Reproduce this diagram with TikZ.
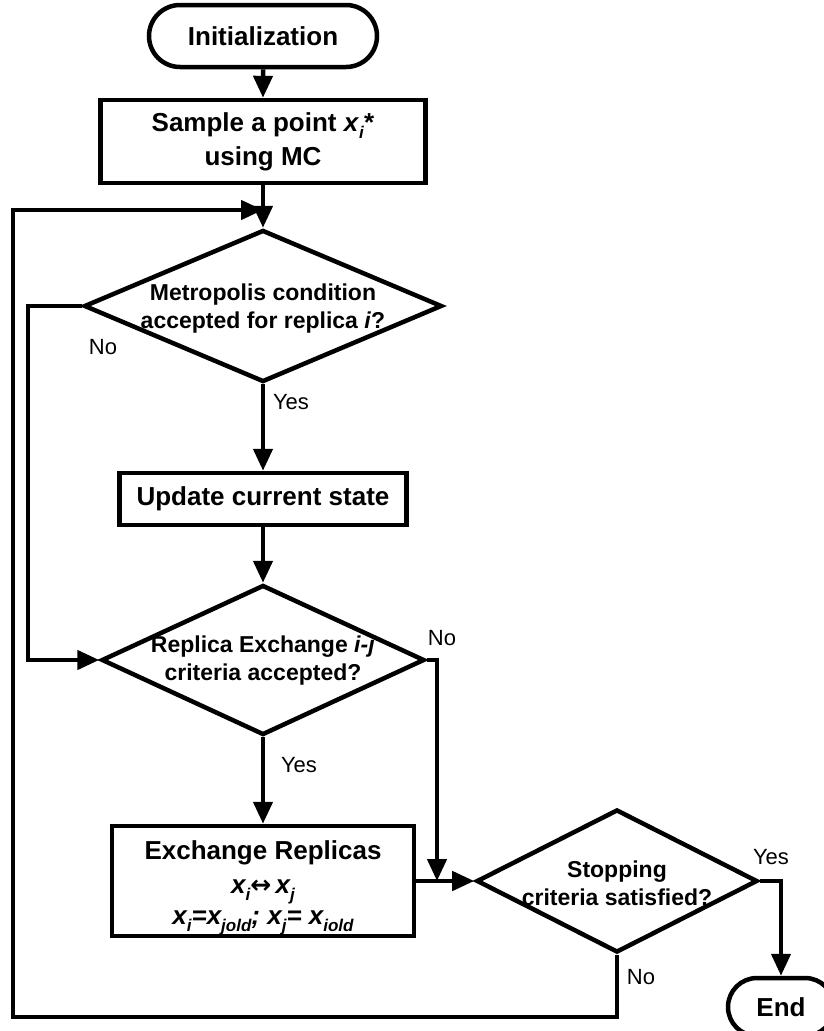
\documentclass[tikz,border=0pt]{standalone}
\usepackage{fontspec}
\setmainfont{Liberation Sans}
\newfontfamily\arrfont{DejaVu Sans}
\usetikzlibrary{arrows.meta,shapes.geometric,shapes.misc}
\newcommand{\lsub}[1]{\raisebox{-0.28em}{\fontsize{17}{17}\selectfont #1}}
\begin{document}
\begin{tikzpicture}[x=1pt,y=-1pt,
  every node/.style={inner sep=0pt},
  box/.style={draw,line width=4.5pt,rectangle,align=center,font=\fontsize{26}{34}\selectfont\bfseries},
  term/.style={draw,line width=4.5pt,rounded rectangle,font=\fontsize{26}{30}\selectfont\bfseries},
  dia/.style={draw,line width=4.5pt,diamond},
  dtext/.style={align=center,font=\fontsize{23}{28}\selectfont\bfseries},
  lbl/.style={font=\fontsize{22}{24}\selectfont},
  arr/.style={line width=4.5pt,-{Triangle[length=22pt,width=19pt]}}]
\useasboundingbox (0,0) rectangle (824,1031);
\node[term,minimum width=228,minimum height=62] (init) at (263,36) {Initialization};
\node[box,minimum width=325,minimum height=83] (sample) at (263,141.5) {Sample a point \textit{x}\lsub{\textit{i}}*\\using MC};
\node[dia,minimum width=358,minimum height=152] (d1) at (263,306) {};
\node[dtext] (d1t) at (263,309) {Metropolis condition\\accepted for replica \textit{i}?};
\node[box,minimum width=287,minimum height=52] (upd) at (263,499) {Update current state};
\node[dia,minimum width=323,minimum height=150] (d2) at (263,660) {};
\node[dtext] (d2t) at (263,661) {Replica Exchange \textit{i-j}\\criteria accepted?};
\node[box,minimum width=302,minimum height=110] (exch) at (263,881) {};
\node[align=center,font=\fontsize{26}{32}\selectfont\bfseries] (excht) at (263,888) {Exchange Replicas\\[2pt]
{\fontsize{26}{30}\selectfont\itshape x\lsub{i}{\arrfont\fontsize{25}{25}\selectfont ↔}\,x\lsub{j}}\\[-1pt]
{\fontsize{26}{30}\selectfont\itshape x\lsub{i}=x\lsub{jold}; x\lsub{j}= x\lsub{iold}}};
\node[dia,minimum width=281,minimum height=143] (d3) at (617,881) {};
\node[dtext] (d3t) at (617,883) {Stopping\\criteria satisfied?};
\node[term,minimum width=106,minimum height=58] (end) at (781,1007) {End};
\node[lbl] (no1) at (103,347) {No};
\node[lbl] (yes1) at (291,402) {Yes};
\node[lbl] (no2) at (442,638) {No};
\node[lbl] (yes2) at (299,765) {Yes};
\node[lbl] (yes3) at (771,857) {Yes};
\node[lbl] (no3) at (641,977) {No};
\coordinate (m) at (437,881);
\coordinate (bl) at (13,1017);
\coordinate (tl) at (13,210);
\coordinate (join) at (263,210);
\draw[arr] (init) -- (sample);
\draw[arr] (sample) -- (d1);
\draw[arr] (d1) -- (upd);
\draw[arr] (upd) -- (d2);
\draw[arr] (d2) -- (exch);
\draw[arr] (exch) -- (d3);
\draw[arr] (d1.west) -- ++(-54,0) |- (d2.west);
\draw[arr] (d2.east) -| (m);
\draw[arr] (d3.east) -| (end.north);
\draw[arr] (d3.south) |- (bl) -- (tl) -- (join);
\end{tikzpicture}
\end{document}
